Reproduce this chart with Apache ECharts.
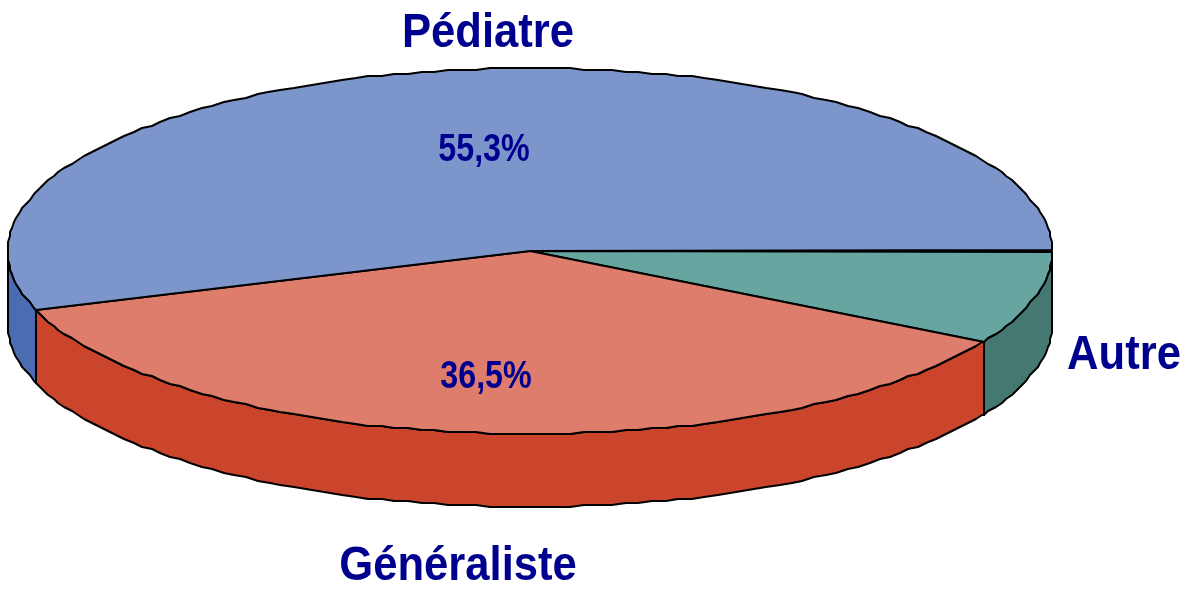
<!DOCTYPE html>
<html>
<head>
<meta charset="utf-8">
<style>
  html, body { margin: 0; padding: 0; background: #fff; }
  #chart { width: 1182px; height: 592px; }
</style>
<script src="https://cdn.jsdelivr.net/npm/echarts@6/dist/echarts.min.js"></script>
</head>
<body>
<div id="chart"></div>
<script>
// parts, clockwise from 3 o'clock
var categories = ['Autre', 'Généraliste', 'Pédiatre'];
var shares = [8.2, 36.5, 55.3];
var shareLabels = ['', '36,5%', '55,3%'];

// look of the parts, same order
var topColors = ['#67a6a0', '#df7d6d', '#7c96cc'];
var sideColors = ['#467872', '#cb442c', '#4a6cb0'];

// the flattened disc
var cx = 530, cy = 251, rx = 522, ry = 183, depth = 73;
var stepDeg = 1.5;
var snap = 2; // the rim of the original is stepped, it snaps to a coarse grid

// where the names and percentages sit
var namePos = [[1124, 355], [458, 566], [488, 33]];
var sharePos = [null, [486, 378], [484, 151]];

var total = shares.reduce(function (a, b) { return a + b; }, 0);

function rimPoint(deg, drop) {
  var t = deg * Math.PI / 180;
  var x = Math.round((cx + rx * Math.cos(t)) / snap) * snap;
  var y = Math.round((cy + ry * Math.sin(t)) / snap) * snap;
  return [x, y + (drop || 0)];
}

// points along the rim from a to b
function rim(a, b, drop) {
  var pts = [rimPoint(a, drop)];
  var d = Math.ceil(a / stepDeg) * stepDeg;
  if (d <= a) d += stepDeg;
  for (; d < b; d += stepDeg) pts.push(rimPoint(d, drop));
  pts.push(rimPoint(b, drop));
  return pts;
}

function label(text, pos, size, stretch) {
  return {
    type: 'text',
    x: pos[0],
    y: pos[1],
    scaleX: stretch,
    z2: 10,
    style: {
      text: text,
      font: 'bold ' + size + 'px "Liberation Sans", Arial, sans-serif',
      fill: '#00008f',
      align: 'center',
      verticalAlign: 'middle'
    }
  };
}

function renderPart(params, api) {
  var i = params.dataIndex;
  var before = 0;
  for (var k = 0; k < i; k++) before += shares[k];
  var start = before / total * 360;
  var end = (before + api.value(0)) / total * 360;
  var line = { stroke: '#000', lineWidth: 2, lineJoin: 'round' };
  var children = [];

  // wall only for the part of the rim facing us
  var wa = Math.max(start, 0), wb = Math.min(end, 180);
  if (wb > wa) {
    var upper = rim(wa, wb, 0);
    var lower = rim(wa, wb, depth).reverse();
    children.push({
      type: 'polygon',
      z2: 1,
      shape: { points: upper.concat(lower) },
      style: Object.assign({ fill: sideColors[i] }, line)
    });
  }

  children.push({
    type: 'polygon',
    z2: 2,
    shape: { points: [[cx, cy]].concat(rim(start, end, 0)) },
    style: Object.assign({ fill: topColors[i] }, line)
  });

  children.push(label(categories[i], namePos[i], 49, 0.89));
  if (shareLabels[i]) children.push(label(shareLabels[i], sharePos[i], 38, 0.85));

  return { type: 'group', children: children };
}

var chart = echarts.init(document.getElementById('chart'));
chart.setOption({
  animation: false,
  backgroundColor: '#fff',
  series: [{
    type: 'custom',
    coordinateSystem: 'none',
    silent: true,
    renderItem: renderPart,
    data: shares.map(function (v, i) { return { name: categories[i], value: [v] }; })
  }]
});
</script>
</body>
</html>
